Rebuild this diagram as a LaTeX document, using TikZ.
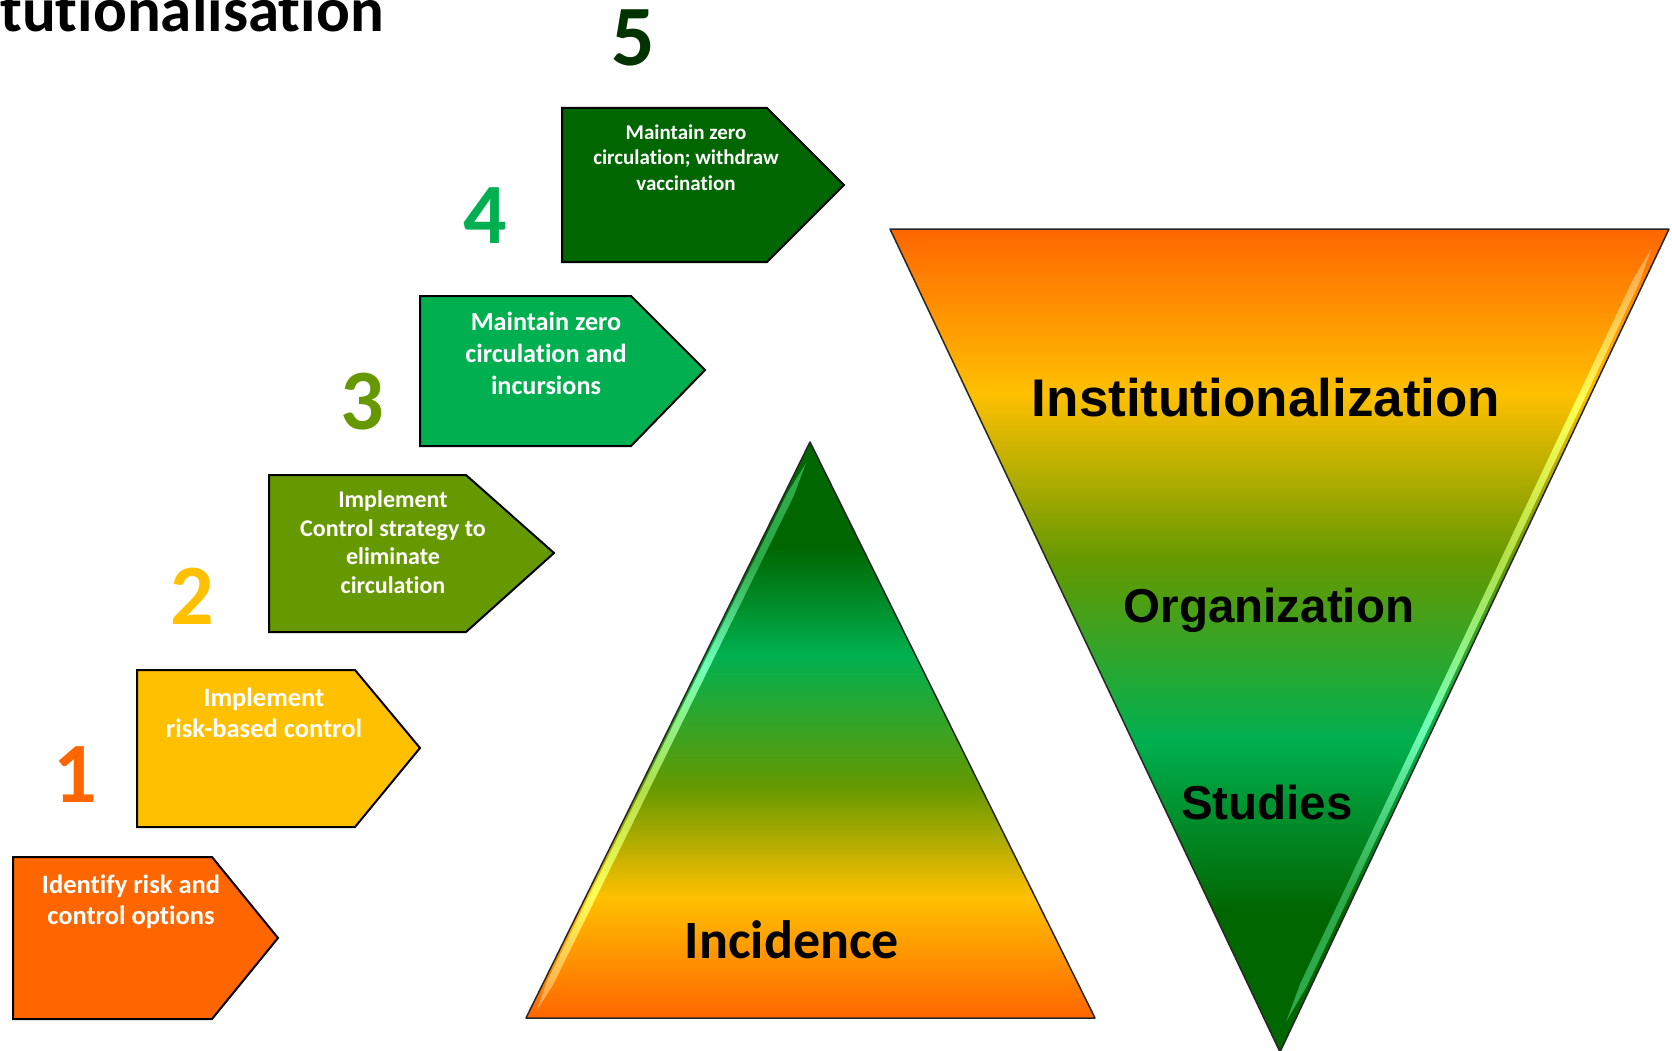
\documentclass[tikz,border=0pt]{standalone}
\usepackage{fontspec}
\setmainfont{Carlito}[Ligatures=NoCommon]
\newfontfamily\arialfont{Liberation Sans}
\definecolor{StepOrange}{HTML}{FF6600}
\definecolor{StepYellow}{HTML}{FFC000}
\definecolor{StepOlive}{HTML}{669900}
\definecolor{StepGreen}{HTML}{00B050}
\definecolor{StepDark}{HTML}{006600}
\definecolor{NumDark}{HTML}{003300}
\definecolor{GlintOrange}{HTML}{FFA050}
\definecolor{GlintYellow}{HTML}{FFFF55}
\definecolor{GlintLime}{HTML}{B5E04A}
\definecolor{GlintMint}{HTML}{70FFB8}
\definecolor{GlintGreen}{HTML}{2EAA4A}
\pgfdeclareverticalshading{incidenceshade}{100bp}{color(0bp)=(StepOrange); color(25bp)=(StepOrange); color(35.5bp)=(StepYellow); color(45bp)=(StepOlive); color(56.5bp)=(StepGreen); color(66bp)=(StepDark); color(75bp)=(StepDark); color(100bp)=(StepDark)}
\pgfdeclareverticalshading{institutionshade}{100bp}{color(0bp)=(StepDark); color(33.5bp)=(StepDark); color(44bp)=(StepGreen); color(55bp)=(StepOlive); color(65bp)=(StepYellow); color(75bp)=(StepOrange); color(100bp)=(StepOrange)}
\pgfdeclareverticalshading{incidenceglint}{100bp}{color(0bp)=(GlintOrange); color(25bp)=(GlintOrange); color(35.5bp)=(GlintYellow); color(45bp)=(GlintLime); color(56.5bp)=(GlintMint); color(66bp)=(GlintGreen); color(75bp)=(GlintGreen); color(100bp)=(GlintGreen)}
\pgfdeclareverticalshading{institutionglint}{100bp}{color(0bp)=(GlintGreen); color(33.5bp)=(GlintGreen); color(44bp)=(GlintMint); color(55bp)=(GlintLime); color(65bp)=(GlintYellow); color(75bp)=(GlintOrange); color(100bp)=(GlintOrange)}
\tikzset{
  stepbox/.style={draw=black, line width=2pt, line join=miter},
  steptext/.style={text=white, font=\fontsize{26.5}{31}\selectfont\bfseries, align=center, anchor=base, inner sep=0},
  stepnum/.style={font=\fontsize{86}{86}\selectfont\bfseries, anchor=base, inner sep=0},
  tierlabel/.style={font=\arialfont\bfseries\fontsize{47.5}{50}\selectfont, anchor=base, inner sep=0},
  tierbody/.style={draw=black!85, line width=1.5pt, line join=round}
}

\begin{document}
\begin{tikzpicture}[x=1pt, y=-1pt]
  \useasboundingbox (0,0) rectangle (1672,1051);
  \node[font=\fontsize{63}{63}\selectfont\bfseries, anchor=base west, inner sep=0] (title) at (0,32) {tutionalisation};

  % steps
  \draw[stepbox, fill=StepOrange] (13,857) -- (212,857) -- (278,938) -- (212,1019) -- (13,1019) -- cycle;
  \draw[stepbox, fill=StepYellow] (137,670) -- (355,670) -- (420,748) -- (355,827) -- (137,827) -- cycle;
  \draw[stepbox, fill=StepOlive] (269,475) -- (466,475) -- (554,553) -- (466,632) -- (269,632) -- cycle;
  \draw[stepbox, fill=StepGreen] (420,296) -- (631,296) -- (705,370) -- (631,446) -- (420,446) -- cycle;
  \draw[stepbox, fill=StepDark] (562,108) -- (767,108) -- (844,185) -- (767,262) -- (562,262) -- cycle;

  \node[steptext] (identify) at (131,924) {Identify risk and\\control options};
  \node[steptext] (riskbased) at (264,737) {Implement\\risk-based control};
  \node[steptext, font=\fontsize{24}{28.5}\selectfont\bfseries] (eliminate) at (393,593) {Implement\\Control strategy to\\eliminate\\circulation};
  \node[steptext, font=\fontsize{26.2}{32}\selectfont\bfseries] (incursions) at (546,394) {Maintain zero\\circulation and\\incursions};
  \node[steptext, font=\fontsize{21}{25.5}\selectfont\bfseries] (withdraw) at (686,190) {Maintain zero\\circulation; withdraw\\vaccination};

  \node[stepnum, text=StepOrange] (n1) at (75,802) {1};
  \node[stepnum, text=StepYellow] (n2) at (192,624) {2};
  \node[stepnum, text=StepOlive] (n3) at (362,429) {3};
  \node[stepnum, text=StepGreen] (n4) at (485,243) {4};
  \node[stepnum, text=NumDark] (n5) at (633,66) {5};

  % pyramids
  \shade[shading=incidenceshade] (810,442) -- (1095,1018) -- (526,1018) -- cycle;
  \shade[shading=incidenceglint] (805.9,463.3) -- (793.6,496.2) -- (552.9,985.2) -- (536.5,1010.6) -- (546.6,982.2) -- (787.3,493.2) -- cycle;
  \draw[tierbody] (810,442) -- (1095,1018) -- (526,1018) -- cycle;

  \shade[shading=institutionshade] (890,229) -- (1669,229) -- (1280,1052) -- cycle;
  \shade[shading=institutionglint] (1651.5,248.4) -- (1639.8,281.5) -- (1306.5,986.7) -- (1286.2,1021.4) -- (1300.2,983.7) -- (1633.5,278.5) -- cycle;
  \draw[tierbody] (890,229) -- (1669,229) -- (1280,1052) -- cycle;

  \node[tierlabel, font=\fontsize{54}{56}\selectfont\bfseries] (incidence) at (792,958) {Incidence};
  \node[tierlabel, font=\arialfont\bfseries\fontsize{53}{56}\selectfont] (institution) at (1266,416) {Institutionalization};
  \node[tierlabel] (organization) at (1269,622) {Organization};
  \node[tierlabel] (studies) at (1267,819) {Studies};
\end{tikzpicture}
\end{document}
